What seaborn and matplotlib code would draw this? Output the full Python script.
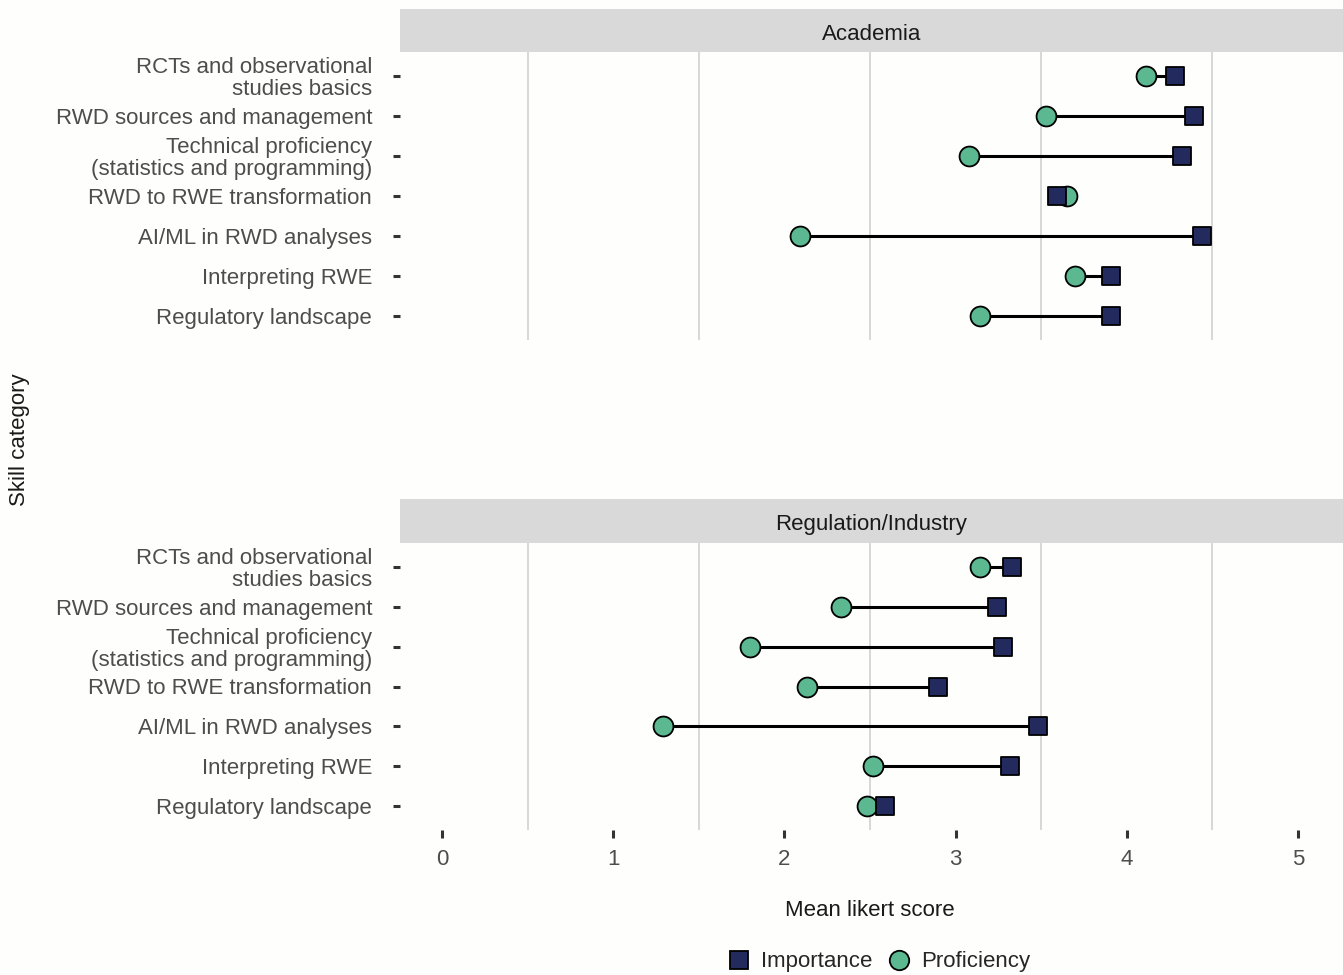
import matplotlib
matplotlib.use("Agg")
import matplotlib.pyplot as plt
from matplotlib.lines import Line2D
import pandas as pd
import seaborn as sns

# Skill categories (top to bottom)
skills = [
    "RCTs and observational\nstudies basics",
    "RWD sources and management",
    "Technical proficiency\n(statistics and programming)",
    "RWD to RWE transformation",
    "AI/ML in RWD analyses",
    "Interpreting RWE",
    "Regulatory landscape",
]

sectors = ["Academia", "Regulation/Industry"]

# Mean Likert scores per sector
academia_importance = [4.28, 4.39, 4.32, 3.59, 4.44, 3.91, 3.91]
academia_proficiency = [4.11, 3.53, 3.08, 3.65, 2.09, 3.70, 3.14]
industry_importance = [3.33, 3.24, 3.28, 2.90, 3.48, 3.32, 2.59]
industry_proficiency = [3.14, 2.33, 1.80, 2.13, 1.29, 2.52, 2.48]

x_ticks = [0, 1, 2, 3, 4, 5]

measure_colors = {"Importance": "#222a5e", "Proficiency": "#5bb891"}
measure_markers = {"Importance": "s", "Proficiency": "o"}

records = []
for sector, imp, prof in [
    ("Academia", academia_importance, academia_proficiency),
    ("Regulation/Industry", industry_importance, industry_proficiency),
]:
    for i, skill in enumerate(skills):
        records.append(dict(sector=sector, skill=skill, pos=i, measure="Importance", score=imp[i]))
        records.append(dict(sector=sector, skill=skill, pos=i, measure="Proficiency", score=prof[i]))
df = pd.DataFrame(records)

sns.set_theme(style="white")
plt.rcParams["font.family"] = ["Liberation Sans", "DejaVu Sans"]

FS = 16
W, H = 1343, 975
fig = plt.figure(figsize=(W / 100, H / 100), dpi=100)
fig.patch.set_facecolor("#fefefd")

text_grey = "#4d4d4d"
panel_left, panel_right = 400, 1343
panels = {"Academia": (52, 340, 9), "Regulation/Industry": (543, 830, 499)}

axes = []
for sector in sectors:
    top, bottom, strip_top = panels[sector]
    ax = fig.add_axes([panel_left / W, 1 - bottom / H, (panel_right - panel_left) / W, (bottom - top) / H])
    ax.set_facecolor("none")
    sub = df[df.sector == sector]
    wide = sub.pivot(index="pos", columns="measure", values="score").reset_index()

    # connecting segments
    ax.hlines(wide["pos"], wide["Proficiency"], wide["Importance"], color="black", lw=2.2, zorder=1)

    # proficiency circles beneath importance squares
    for measure in ["Proficiency", "Importance"]:
        part = sub[sub.measure == measure]
        sns.scatterplot(
            data=part, x="score", y="pos", ax=ax,
            marker=measure_markers[measure], color=measure_colors[measure],
            s=205 if measure == "Proficiency" else 175,
            edgecolor="black", linewidth=1.3, zorder=3, legend=False,
        )

    ax.set_xlim(-0.245, 5.263)
    ax.set_ylim(6.6, -0.6)
    ax.set_yticks(range(len(skills)))
    ax.set_yticklabels(skills, fontsize=FS, color=text_grey, linespacing=1.05)
    ax.tick_params(axis="y", length=5, width=2.2, color="#333333", pad=15, left=True)
    ax.set_xticks([0.5, 1.5, 2.5, 3.5, 4.5], minor=True)
    ax.grid(False)
    ax.grid(which="minor", axis="x", color="#d4d4d4", lw=1.3)
    ax.tick_params(axis="x", which="minor", length=0)
    for s in ax.spines.values():
        s.set_visible(False)
    ax.set_xlabel("")
    ax.set_ylabel("")
    ax.set_xticks(x_ticks)

    # facet strip
    sax = fig.add_axes([panel_left / W, 1 - top / H, (panel_right - panel_left) / W, (top - strip_top) / H])
    sax.set_facecolor("#d9d9d9")
    sax.set_xticks([])
    sax.set_yticks([])
    for s in sax.spines.values():
        s.set_visible(False)
    sax.text(0.5, 0.47, sector, ha="center", va="center_baseline", fontsize=FS, color="#1a1a1a",
             transform=sax.transAxes)
    axes.append(ax)

top_ax, bot_ax = axes
top_ax.tick_params(axis="x", which="major", length=0, labelbottom=False)
bot_ax.set_xticklabels([str(t) for t in x_ticks], fontsize=FS, color=text_grey)
bot_ax.tick_params(axis="x", which="major", length=6, width=2.2, color="#333333", pad=8, bottom=True)

fig.text(870 / W, 1 - 908 / H, "Mean likert score", ha="center", va="center_baseline", fontsize=FS, color="#1a1a1a")
fig.text(20 / W, 1 - 440 / H, "Skill category", ha="center", va="center", rotation=90, fontsize=FS, color="#1a1a1a")

handles = [
    Line2D([], [], marker=measure_markers[m], linestyle="none", markersize=14 if m == "Proficiency" else 13,
           markerfacecolor=measure_colors[m], markeredgecolor="black", markeredgewidth=1.3, label=m)
    for m in ["Importance", "Proficiency"]
]
fig.legend(handles=handles, loc="center", bbox_to_anchor=(878 / W, 1 - 962 / H), ncol=2, frameon=False,
           fontsize=FS, handletextpad=0.4, columnspacing=0.6, handlelength=1.2)

fig.savefig("out.png", dpi=100, facecolor=fig.get_facecolor())
